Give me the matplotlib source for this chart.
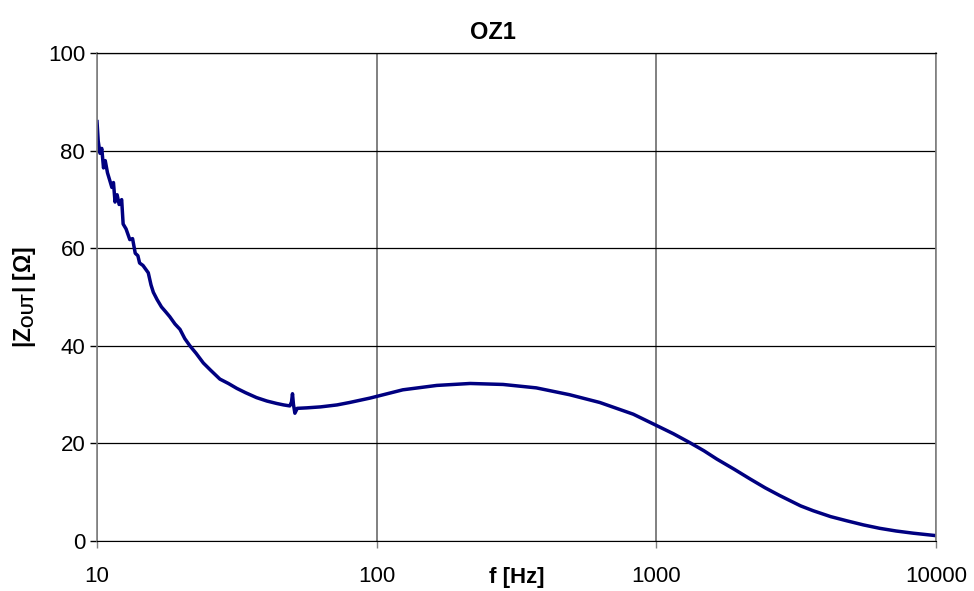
import matplotlib.pyplot as plt

plt.rcParams['font.family'] = ['Liberation Sans', 'DejaVu Sans']
plt.rcParams['mathtext.fontset'] = 'custom'
plt.rcParams['mathtext.rm'] = 'Liberation Sans'
plt.rcParams['mathtext.bf'] = 'Liberation Sans:bold'

# values (noisy below ~50 Hz)
freq_hz = [10.0, 10.1, 10.25, 10.4, 10.55, 10.7, 10.9, 11.1, 11.3, 11.45,
           11.6, 11.8, 12.0, 12.25, 12.4, 12.7, 13.1, 13.4, 13.7, 14.0,
           14.2, 14.6, 15.25, 15.6, 15.9, 16.4, 17.0, 17.6, 18.2, 19.0,
           19.8, 20.6, 21.5, 22.6, 24.0, 25.5, 27.5, 29.5, 31.6, 34.0,
           37.2, 40.5, 43.9, 46.5, 48.9, 49.6, 50.0, 50.4, 51.0, 52.0,
           56.2, 63.0, 72.1, 80.0, 94.6, 124, 164, 216, 283, 372,
           489, 628, 827, 1000, 1150, 1314, 1480, 1645, 1900, 2167,
           2450, 2766, 3280, 3640, 4200, 4790, 5500, 6290, 7200, 8290,
           10000]
z_out = [86.0, 82.0, 79.5, 80.5, 76.5, 78.0, 75.5, 74.0, 72.5, 73.5,
         69.5, 71.0, 69.0, 70.0, 65.0, 64.0, 61.8, 62.0, 59.0, 58.5,
         57.0, 56.5, 55.0, 52.5, 51.0, 49.5, 48.0, 47.0, 46.0, 44.5,
         43.4, 41.5, 40.0, 38.5, 36.5, 35.0, 33.2, 32.3, 31.3, 30.4,
         29.4, 28.7, 28.2, 27.9, 27.7, 28.5, 30.2, 28.0, 26.2, 27.2,
         27.3, 27.5, 27.9, 28.4, 29.3, 31.0, 31.9, 32.3, 32.1, 31.4,
         30.0, 28.4, 26.0, 23.7, 22.0, 20.2, 18.5, 16.8, 14.7, 12.7,
         10.9, 9.3, 7.2, 6.2, 5.0, 4.15, 3.3, 2.6, 2.05, 1.6,
         1.1]

fig = plt.figure(figsize=(9.74, 5.91), dpi=100)
ax = fig.add_axes([0.0996, 0.0846, 0.8614, 0.8252])

ax.plot(freq_hz, z_out, color='#000080', lw=2.5)

ax.set_xscale('log')
ax.set_xlim(10, 10000)
ax.set_ylim(0, 100)
ax.set_xticks([10, 100, 1000, 10000])
ax.set_xticklabels(['10', '100', '1000', '10000'])
ax.minorticks_off()
ax.set_yticks([0, 20, 40, 60, 80, 100])

ax.grid(axis='y', color='black', lw=0.9)
ax.grid(axis='x', color='#808080', lw=1.4)
ax.set_axisbelow(True)

for s in ['left', 'right']:
    ax.spines[s].set_color('#808080')
    ax.spines[s].set_linewidth(1.2)
ax.spines['bottom'].set_color('black')
ax.spines['top'].set_color('black')
ax.spines['top'].set_linewidth(0.9)

ax.tick_params(axis='both', direction='out', length=5, width=1, labelsize=16, colors='black')
ax.tick_params(axis='x', pad=13, color='#808080')

ax.set_title('OZ1', fontsize=17, fontweight='bold', x=0.4715, y=1.0, pad=10)
ax.set_xlabel('f [Hz]', fontsize=16, fontweight='bold', va='center')
ax.xaxis.set_label_coords(0.5, -0.075)
ax.set_ylabel(r'|Z$_{\mathbf{OUT}}$| [Ω]', fontsize=16.5, fontweight='bold', va='center')
ax.yaxis.set_label_coords(-0.087, 0.5)

fig.savefig('out.png', dpi=100)
